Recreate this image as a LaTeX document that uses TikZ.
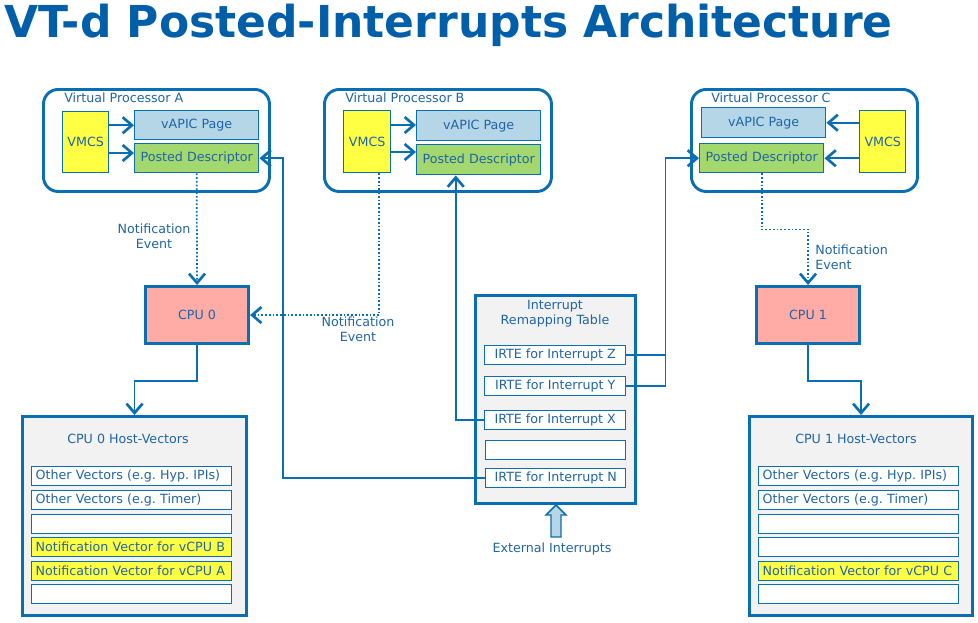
\documentclass[tikz,border=0pt]{standalone}
\usepackage{fontspec}
\setmainfont{DejaVu Sans}
\usetikzlibrary{arrows.meta,calc}
\definecolor{lblue}{HTML}{0A6EB2}
\definecolor{tblue}{HTML}{005FA8}
\definecolor{txt}{HTML}{1F64A6}
\definecolor{vyel}{HTML}{FFFF44}
\definecolor{vapic}{HTML}{B5D6E6}
\definecolor{pdgreen}{HTML}{A2D86E}
\definecolor{cpured}{HTML}{FFACA6}
\definecolor{panel}{HTML}{F2F2F2}
\frenchspacing
\tikzset{
  sz/.style 2 args={minimum width=#1*0.75pt, minimum height=#2*0.75pt},
  lab/.style={text=txt, font=\fontsize{9.5}{11.5}\selectfont, inner sep=0pt},
  vp/.style={draw=lblue, line width=2.2pt, rounded corners=11pt, anchor=north west},
  ibox/.style={draw=lblue, line width=1.1pt, anchor=north west, text=txt, font=\fontsize{9.5}{11.5}\selectfont, inner sep=0pt},
  thickbox/.style={draw=lblue, line width=2.3pt, anchor=north west, text=txt, font=\fontsize{9.5}{11.5}\selectfont, inner sep=0pt},
  row/.style={ibox, fill=white, text width=192*0.75pt, align=left, inner xsep=3pt},
  conn/.style={draw=lblue, line width=1.3pt},
  dotl/.style={conn, dash pattern=on 1.3pt off 1.5pt},
  arr/.style={-{Straight Barb[length=7pt,width=12pt,line width=2pt]}},
}
\begin{document}
\begin{tikzpicture}[x=0.75pt,y=-0.75pt]
\path[use as bounding box] (0,0) rectangle (978,622);
% title
\node[anchor=base west, text=tblue, font=\fontsize{33}{36}\selectfont\bfseries, inner sep=0pt] (title) at (4,37) {VT-d Posted-Interrupts Architecture};

% Virtual Processor A
\node[vp, sz={226}{102}] (vpA) at (42,88) {};
\node[lab, anchor=west] (vpAl) at (64,98) {Virtual Processor A};
\node[ibox, fill=vyel, sz={46}{61}] (vmcsA) at (62,111) {VMCS};
\node[ibox, fill=vapic, sz={124}{29}] (vapicA) at (134,110) {vAPIC Page};
\node[ibox, fill=pdgreen, sz={124}{29}] (pdA) at (134,143) {Posted Descriptor};
\draw[conn,arr] (vmcsA.east |- vapicA.west) -- (vapicA.west);
\draw[conn,arr] (vmcsA.east |- 0,153) -- (pdA.west |- 0,153);

% Virtual Processor B
\node[vp, sz={227}{102}] (vpB) at (323,88) {};
\node[lab, anchor=west] (vpBl) at (345,98) {Virtual Processor B};
\node[ibox, fill=vyel, sz={47}{62}] (vmcsB) at (343,110) {VMCS};
\node[ibox, fill=vapic, sz={124}{30}] (vapicB) at (416,110) {vAPIC Page};
\node[ibox, fill=pdgreen, sz={124}{30}] (pdB) at (416,144) {Posted Descriptor};
\draw[conn,arr] (vmcsB.east |- 0,125) -- (vapicB.west |- 0,125);
\draw[conn,arr] (vmcsB.east |- 0,152) -- (pdB.west |- 0,152);

% Virtual Processor C
\node[vp, sz={226}{102}] (vpC) at (690,88) {};
\node[lab, anchor=west] (vpCl) at (711,98) {Virtual Processor C};
\node[ibox, fill=vapic, sz={124}{30}] (vapicC) at (701,107) {vAPIC Page};
\node[ibox, fill=pdgreen, sz={124}{29}] (pdC) at (699,143) {Posted Descriptor};
\node[ibox, fill=vyel, sz={46}{62}] (vmcsC) at (859,110) {VMCS};
\draw[conn,arr] (vmcsC.west |- vapicC.east) -- (vapicC.east);
\draw[conn,arr] (vmcsC.west |- pdC.east) -- (pdC.east);

% CPUs
\node[thickbox, fill=cpured, sz={103}{57}] (cpu0) at (144,285) {CPU 0};
\node[thickbox, fill=cpured, sz={103}{57}] (cpu1) at (755,285) {CPU 1};

% Host vectors CPU 0
\node[thickbox, fill=panel, sz={224}{199}] (hv0) at (21,415) {};
\node[lab] (hv0t) at (128,439) {CPU 0 Host-Vectors};
\node[row, sz={200}{19}] (r01) at (31,466) {Other Vectors (e.g. Hyp. IPIs)};
\node[row, sz={200}{19}] (r02) at (31,490) {Other Vectors (e.g. Timer)};
\node[row, sz={200}{19}] (r03) at (31,514) {};
\node[row, fill=vyel, sz={200}{19}] (r04) at (31,537) {Notification Vector for vCPU B};
\node[row, fill=vyel, sz={200}{19}] (r05) at (31,561) {Notification Vector for vCPU A};
\node[row, sz={200}{19}] (r06) at (31,584) {};

% Host vectors CPU 1
\node[thickbox, fill=panel, sz={223}{199}] (hv1) at (748,415) {};
\node[lab] (hv1t) at (856,439) {CPU 1 Host-Vectors};
\node[row, sz={199}{19}] (r11) at (758,466) {Other Vectors (e.g. Hyp. IPIs)};
\node[row, sz={199}{19}] (r12) at (758,490) {Other Vectors (e.g. Timer)};
\node[row, sz={199}{19}] (r13) at (758,514) {};
\node[row, sz={199}{19}] (r14) at (758,537) {};
\node[row, fill=vyel, sz={199}{19}] (r15) at (758,561) {Notification Vector for vCPU C};
\node[row, sz={199}{19}] (r16) at (758,584) {};

% Interrupt Remapping Table
\node[thickbox, fill=panel, sz={160}{208}] (irt) at (474,294) {};
\node[lab, align=center] (irtt) at (555,314) {Interrupt\\Remapping Table};
\node[ibox, fill=white, sz={141}{19}] (irZ) at (484,345) {IRTE for Interrupt Z};
\node[ibox, fill=white, sz={141}{19}] (irY) at (484,376) {IRTE for Interrupt Y};
\node[ibox, fill=white, sz={141}{19}] (irX) at (484,410) {IRTE for Interrupt X};
\node[ibox, fill=white, sz={140}{19}] (irE) at (485,440) {};
\node[ibox, fill=white, sz={140}{19}] (irN) at (485,468) {IRTE for Interrupt N};

% external interrupts
\draw[draw=lblue, fill=vapic, line width=1.1pt]
  (551,537) -- (551,515) -- (546,515) -- (556,505) -- (566,515) -- (561,515) -- (561,537) -- cycle;
\node[lab] (extl) at (552,549) {External Interrupts};

% notification events
\draw[dotl,arr] (pdA.south) -- (cpu0.north);
\node[lab, align=center] (neA) at (154,236) {Notification\\Event};
\draw[dotl,arr] ([xshift=9pt]vmcsB.south) |- (cpu0.east);
\node[lab, align=center] (neB) at (358,329) {Notification\\Event};
\draw[dotl,arr] (pdC.south) -- ++(0,56) -| (cpu1.north);
\node[lab, align=left, anchor=west] (neC) at (815,257) {Notification\\Event};

% CPU to host vectors
\draw[conn,arr] (cpu0.south) -- ++(0,36) -| (hv0.north);
\draw[conn,arr] (cpu1.south) -- ++(0,36) -| (hv1.north);

% IRTE connections
\draw[conn,arr] (irN.west) -- ++(-202,0) |- (pdA.east);
\draw[conn,arr] (irX.west) -| ([xshift=-17.25pt]pdB.south);
\draw[conn] (irZ.east) -- ++(39,0);
\draw[conn,arr] (irY.east) -- ++(39,0) |- (pdC.west);
\end{tikzpicture}
\end{document}
